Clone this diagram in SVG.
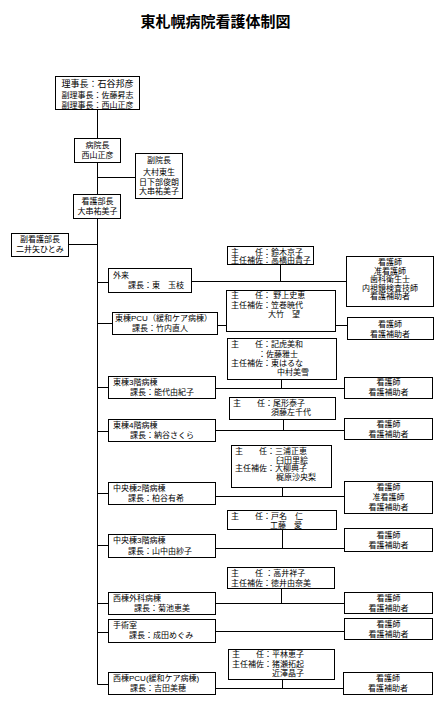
<svg xmlns="http://www.w3.org/2000/svg" width="447" height="728" viewBox="0 0 447 728">
<style>
.b{fill:#fff;stroke:#000;stroke-width:1}
.t{font-family:"Liberation Sans","Noto Sans CJK JP","Noto Sans CJK SC",sans-serif;font-size:8px;fill:#000}
.m{text-anchor:middle}
.l{stroke:#000;stroke-width:1;fill:none}
</style>
<rect width="447" height="728" fill="#fff"/>
<text x="215.5" y="27" class="t m" style="font-size:15px;font-weight:bold">東札幌病院看護体制図</text>
<g id="connectors">
<path class="l" d="M97.5 110V138M97.5 163V194M97.5 219V684.5M97.5 177.5H135M69 244.5H97.5
M97.5 282.5H108M192 281.5H346M280.5 265V281.5
M97.5 323.5H112M218 325.5H347M281.5 325.5V332
M97.5 387.5H108M216 388.5H344M281.5 380V388.5
M97.5 431.5H108M216 430.5H344M283.5 420V430.5
M97.5 493.5H108M216 496.5H344M282.5 488V496.5
M97.5 545.5H108M216 548.5H344M282.5 530V548.5
M97.5 603.5H108M216 603.5H344M281.5 589V603.5
M97.5 632.5H108M216 631.5H344
M97.5 684.5H108M216 688.5H343M282.5 680V688.5"/>
</g>
<g id="rijicho"><rect class="b" x="55.5" y="76.5" width="84" height="33"/>
<text class="t m" x="97.5" y="87" style="font-size:9px">理事長：石谷邦彦</text>
<text class="t m" x="97.5" y="97.5">副理事長：佐藤昇志</text>
<text class="t m" x="97.5" y="108">副理事長：西山正彦</text></g>
<g id="byoincho"><rect class="b" x="74.5" y="138.5" width="46" height="24"/>
<text class="t m" x="97.5" y="147.5">病院長</text><text class="t m" x="97.5" y="157.5">西山正彦</text></g>
<g id="fukuincho"><rect class="b" x="135.5" y="153.5" width="47" height="45"/>
<text class="t m" x="159" y="162.5">副院長</text><text class="t m" x="159" y="175">大村東生</text>
<text class="t m" x="159" y="185">日下部俊朗</text><text class="t m" x="159" y="194">大串祐美子</text></g>
<g id="kangobucho"><rect class="b" x="73.5" y="194.5" width="47" height="24"/>
<text class="t m" x="97.5" y="203.5">看護部長</text><text class="t m" x="97.5" y="213.5">大串祐美子</text></g>
<g id="fukukangobucho"><rect class="b" x="11.5" y="233.5" width="57" height="23"/>
<text class="t m" x="40" y="241.5">副看護部長</text><text class="t m" x="40" y="251.5">二井矢ひとみ</text></g>

<g id="gairai"><rect class="b" x="108.5" y="268.5" width="83" height="24"/>
<text class="t" x="113" y="277.5">外来</text><text class="t" x="128" y="288">課長：東　玉枝</text></g>
<g id="gairai-shunin"><rect class="b" x="227.5" y="246.5" width="86" height="18"/>
<text class="t" x="231" y="254.5">主　　任：鈴木京子</text><text class="t" x="231" y="263">主任補佐：高橋由貴子</text></g>
<g id="gairai-staff"><rect class="b" x="346.5" y="256.5" width="87" height="50"/>
<text class="t m" x="390" y="265">看護師</text><text class="t m" x="390" y="273.5">准看護師</text>
<text class="t m" x="390" y="282">歯科衛生士</text><text class="t m" x="390" y="290.5">内視鏡検査技師</text>
<text class="t m" x="390" y="299">看護補助者</text></g>

<g id="higashi-pcu"><rect class="b" x="112.5" y="312.5" width="105" height="22"/>
<text class="t" x="115" y="320.5">東棟PCU（緩和ケア病棟）</text><text class="t" x="132" y="330.5">課長：竹内直人</text></g>
<g id="higashi-pcu-shunin"><rect class="b" x="226.5" y="290.5" width="109" height="41" fill="none" stroke="#000"/>
<text class="t" x="231" y="298">主　　任： 野上史恵</text><text class="t" x="231" y="308">主任補佐：笠巻暁代</text>
<text class="t" x="268" y="317">大竹　望</text></g>
<g id="higashi-pcu-staff"><rect class="b" x="347.5" y="317.5" width="86" height="22"/>
<text class="t m" x="390" y="327">看護師</text><text class="t m" x="390" y="337">看護補助者</text></g>

<g id="higashi3"><rect class="b" x="108.5" y="376.5" width="107" height="22"/>
<text class="t" x="113" y="384.5">東棟3階病棟</text><text class="t" x="130" y="395">課長：能代由紀子</text></g>
<g id="higashi3-shunin"><rect class="b" x="227.5" y="338.5" width="109" height="41"/>
<text class="t" x="231" y="347">主　　任：記虎美和</text><text class="t" x="258" y="356.5">：佐藤雅士</text>
<text class="t" x="231" y="365.5">主任補佐：東はるな</text><text class="t" x="277" y="375">中村美雪</text></g>
<g id="higashi3-staff"><rect class="b" x="344.5" y="377.5" width="88" height="21"/>
<text class="t m" x="388.5" y="385">看護師</text><text class="t m" x="388.5" y="395">看護補助者</text></g>

<g id="higashi4"><rect class="b" x="108.5" y="419.5" width="107" height="22"/>
<text class="t" x="113" y="427.5">東棟4階病棟</text><text class="t" x="130" y="437.5">課長：納谷さくら</text></g>
<g id="higashi4-shunin"><rect class="b" x="229.5" y="397.5" width="106" height="22"/>
<text class="t" x="233" y="405.5">主　　任：尾形泰子</text><text class="t" x="271" y="415">須藤左千代</text></g>
<g id="higashi4-staff"><rect class="b" x="344.5" y="418.5" width="88" height="21"/>
<text class="t m" x="388.5" y="426.5">看護師</text><text class="t m" x="388.5" y="436.5">看護補助者</text></g>

<g id="chuo2"><rect class="b" x="108.5" y="482.5" width="107" height="22"/>
<text class="t" x="113" y="490.5">中央棟2階病棟</text><text class="t" x="128" y="501">課長：柏谷有希</text></g>
<g id="chuo2-shunin"><rect class="b" x="231.5" y="445.5" width="100" height="42"/>
<text class="t" x="235" y="454">主　　任：三浦正恵</text><text class="t" x="276" y="462.5">臼田里絵</text>
<text class="t" x="235" y="471">主任補佐：大柳典子</text><text class="t" x="276" y="479.5">梶原沙央梨</text></g>
<g id="chuo2-staff"><rect class="b" x="344.5" y="481.5" width="88" height="32"/>
<text class="t m" x="388.5" y="490">看護師</text><text class="t m" x="388.5" y="500">准看護師</text>
<text class="t m" x="388.5" y="509.5">看護補助者</text></g>

<g id="chuo3"><rect class="b" x="108.5" y="534.5" width="107" height="23"/>
<text class="t" x="113" y="542.5">中央棟3階病棟</text><text class="t" x="128" y="553.5">課長：山中由紗子</text></g>
<g id="chuo3-shunin"><rect class="b" x="227.5" y="510.5" width="109" height="19"/>
<text class="t" x="231" y="518.5">主　　任：戸名　仁</text><text class="t" x="270" y="527.5">工藤　愛</text></g>
<g id="chuo3-staff"><rect class="b" x="344.5" y="528.5" width="88" height="23"/>
<text class="t m" x="388.5" y="537.5">看護師</text><text class="t m" x="388.5" y="548">看護補助者</text></g>

<g id="nishi-geka"><rect class="b" x="108.5" y="592.5" width="107" height="22"/>
<text class="t" x="113" y="600.5">西棟外科病棟</text><text class="t" x="134" y="611">課長：菊池恵美</text></g>
<g id="nishi-geka-shunin"><rect class="b" x="227.5" y="567.5" width="107" height="21"/>
<text class="t" x="231" y="575.5">主　　任 ：高井祥子</text><text class="t" x="231" y="586">主任補佐：徳井由奈美</text></g>
<g id="nishi-geka-staff"><rect class="b" x="344.5" y="592.5" width="88" height="21"/>
<text class="t m" x="388.5" y="600.5">看護師</text><text class="t m" x="388.5" y="611">看護補助者</text></g>

<g id="shujutsu"><rect class="b" x="108.5" y="619.5" width="107" height="23"/>
<text class="t" x="113" y="627.5">手術室</text><text class="t" x="129" y="638">課長：成田めぐみ</text></g>
<g id="shujutsu-staff"><rect class="b" x="344.5" y="618.5" width="88" height="21"/>
<text class="t m" x="388.5" y="627">看護師</text><text class="t m" x="388.5" y="637">看護補助者</text></g>

<g id="nishi-pcu"><rect class="b" x="108.5" y="672.5" width="107" height="22"/>
<text class="t" x="113" y="681">西棟PCU(緩和ケア病棟)</text><text class="t" x="130" y="691">課長：吉田美穂</text></g>
<g id="nishi-pcu-shunin"><rect class="b" x="228.5" y="649.5" width="106" height="30"/>
<text class="t" x="232" y="656.5">主　　任：平林恵子</text><text class="t" x="232" y="666.5">主任補佐：猪瀬拓起</text>
<text class="t" x="272" y="675.5">近澤晶子</text></g>
<g id="nishi-pcu-staff"><rect class="b" x="343.5" y="672.5" width="89" height="22"/>
<text class="t m" x="388" y="681">看護師</text><text class="t m" x="388" y="691">看護補助者</text></g>
</svg>
